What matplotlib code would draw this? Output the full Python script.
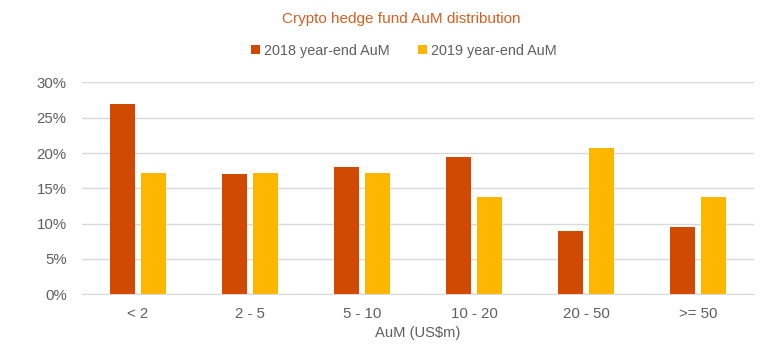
import matplotlib

matplotlib.use("Agg")
import matplotlib.pyplot as plt
import numpy as np
from matplotlib.ticker import FuncFormatter

ORANGE = "#D04A02"
YELLOW = "#FFB600"
TITLE_COLOR = "#D65F22"
TEXT = "#5F5F5F"
GRID = "#D9D9D9"

categories = ["< 2", "2 - 5", "5 - 10", "10 - 20", "20 - 50", ">= 50"]
aum_2018 = [27.0, 17.0, 18.0, 19.5, 9.0, 9.5]
aum_2019 = [17.2, 17.2, 17.2, 13.8, 20.7, 13.8]
series_names = ["2018 year-end AuM", "2019 year-end AuM"]
y_ticks = [0, 5, 10, 15, 20, 25, 30]

plt.rcParams["font.family"] = ["Liberation Sans", "DejaVu Sans"]

fig = plt.figure(figsize=(7.68, 3.46), dpi=100, facecolor="white")
ax = fig.add_axes([82 / 768, 1 - 294.3 / 346, 672 / 768, 211.9 / 346])

x = np.arange(len(categories))
width = 0.225
offset = 0.14
ax.bar(x - offset, aum_2018, width=width, color=ORANGE, label=series_names[0], zorder=3)
ax.bar(x + offset, aum_2019, width=width, color=YELLOW, label=series_names[1], zorder=3)

ax.set_xlim(-0.5, len(categories) - 0.5)
ax.set_ylim(0, 30)
ax.set_yticks(y_ticks)
ax.yaxis.set_major_formatter(FuncFormatter(lambda v, _: f"{v:.0f}%"))
ax.set_xticks(x)
ax.set_xticklabels(categories)

ax.grid(True, axis="y", color=GRID, linewidth=1.0, zorder=0)
ax.set_axisbelow(True)
for side in ["top", "right", "left"]:
    ax.spines[side].set_visible(False)
ax.spines["bottom"].set_color(GRID)
ax.tick_params(axis="both", length=0, labelsize=10.8, colors=TEXT)
ax.tick_params(axis="y", pad=11)
ax.tick_params(axis="x", pad=9)

ax.set_xlabel("AuM (US$m)", fontsize=10.6, color=TEXT, labelpad=4)

fig.text(401 / 768, 1 - 19 / 346, "Crypto hedge fund AuM distribution", ha="center", va="center",
         fontsize=11, color=TITLE_COLOR)
fig.legend(loc="center", bbox_to_anchor=(404 / 768, 1 - 51 / 346), ncol=2, frameon=False,
           fontsize=10.4, labelcolor=TEXT, handlelength=0.6, handleheight=0.6,
           handletextpad=0.3, columnspacing=2.0)

fig.savefig("out.png", dpi=100, facecolor="white")
